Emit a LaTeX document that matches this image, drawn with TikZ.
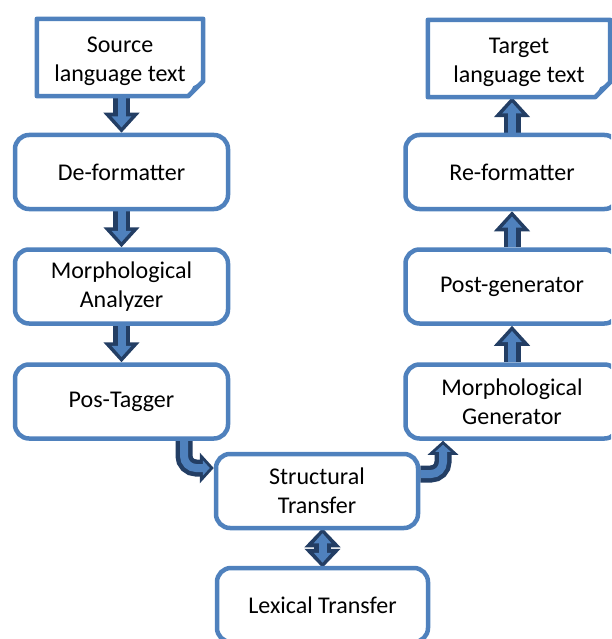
\documentclass[tikz,border=0pt]{standalone}
\usepackage{fontspec}
\setmainfont{Carlito}
\usetikzlibrary{arrows.meta,backgrounds}

\definecolor{stageblue}{RGB}{79,129,189}
\definecolor{arrowdark}{RGB}{35,62,100}

\tikzset{
  stage/.style={draw=stageblue, line width=4.5pt, rounded corners=14pt, fill=white,
    minimum width=213pt, minimum height=74pt, inner sep=0pt, align=center,
    font=\fontsize{24}{29}\selectfont},
  docnode/.style={inner sep=0pt, align=center, text height=52.5pt, font=\fontsize{24}{29}\selectfont},
  docline/.style={draw=stageblue, line width=4.5pt, line join=round, fill=white},
  flowout/.style={line width=17pt, draw=arrowdark, -{Triangle[width=35pt,length=20pt]}},
  flowin/.style={line width=8pt, draw=stageblue, shorten >=5.3pt, -{Triangle[width=19pt,length=11pt]}},
  bendout/.style={line width=17pt, draw=arrowdark, rounded corners=12pt, -{Triangle[width=30pt,length=14pt]}},
  bendin/.style={line width=8pt, draw=stageblue, rounded corners=12pt, shorten >=4pt, -{Triangle[width=15pt,length=7pt]}},
  swapout/.style={line width=17pt, draw=arrowdark,
    {Triangle[width=35pt,length=19pt]}-{Triangle[width=35pt,length=19pt]}},
  swapin/.style={line width=8pt, draw=stageblue, shorten >=5pt, shorten <=5pt,
    {Triangle[width=17pt,length=10pt]}-{Triangle[width=17pt,length=10pt]}},
}

\begin{document}
\begin{tikzpicture}[x=1pt,y=-1pt]
  \useasboundingbox (0,0) rectangle (611,639);
  \clip (0,0) rectangle (611,639);

  % Left column: analysis
  \node[docnode, minimum width=166pt, minimum height=77pt] (src) at (120,57.5) {Source\\language text};
  \node[stage] (defmt) at (121.5,172) {De-formatter};
  \node[stage] (morphan) at (121.5,286.5) {Morphological\\Analyzer};
  \node[stage] (postag) at (121.5,401.5) {Pos-Tagger};

  % Bottom: transfer
  \node[stage, minimum width=202pt] (struct) at (317,491) {Structural\\Transfer};
  \node[stage, minimum width=211pt] (lex) at (322.5,605) {Lexical Transfer};

  % Right column: generation
  \node[stage] (morphgen) at (512,401.5) {Morphological\\Generator};
  \node[stage] (postgen) at (512,286.5) {Post-generator};
  \node[stage] (refmt) at (512,172) {Re-formatter};
  \node[docnode, minimum width=182pt, minimum height=77pt] (tgt) at (519,58.5) {Target\\language text};

  \begin{scope}[on background layer]
    % Block arrows down the left side
    \foreach \a/\b in {src/defmt, defmt/morphan, morphan/postag}{
      \draw[flowout] (\b.north |- \a.south) -- (\b.north);
      \draw[flowin] (\b.north |- \a.south) -- (\b.north);
    }
    % Block arrows up the right side
    \foreach \a/\b in {morphgen/postgen, postgen/refmt, refmt/tgt}{
      \draw[flowout] (\a.north) -- (\a.north |- \b.south);
      \draw[flowin] (\a.north) -- (\a.north |- \b.south);
    }

    % Bent arrows into and out of the transfer
    \draw[bendout] ([xshift=62.5pt]postag.south) |- ([yshift=23pt]struct.west);
    \draw[bendin] ([xshift=62.5pt]postag.south) |- ([yshift=23pt]struct.west);
    \draw[bendout] ([yshift=17pt]struct.east) -| ([xshift=-69pt]morphgen.south);
    \draw[bendin] ([yshift=17pt]struct.east) -| ([xshift=-69pt]morphgen.south);

    % Two-way arrow to the lexicon
    \draw[swapout] ([yshift=2pt]lex.north |- struct.south) -- ([yshift=-2pt]lex.north);
    \draw[swapin] ([yshift=2pt]lex.north |- struct.south) -- ([yshift=-2pt]lex.north);

    % Document outlines with folded corner
    \foreach \d in {src, tgt}{
      \draw[docline] (\d.north west) -- (\d.north east) -- ([yshift=15pt]\d.south east)
        -- ([xshift=-15pt]\d.south east) -- (\d.south west) -- cycle;
      \fill[stageblue] ([yshift=15pt]\d.south east) -- ([xshift=-15pt]\d.south east)
        -- ([xshift=-10pt,yshift=10pt]\d.south east) -- cycle;
    }
  \end{scope}
\end{tikzpicture}
\end{document}
